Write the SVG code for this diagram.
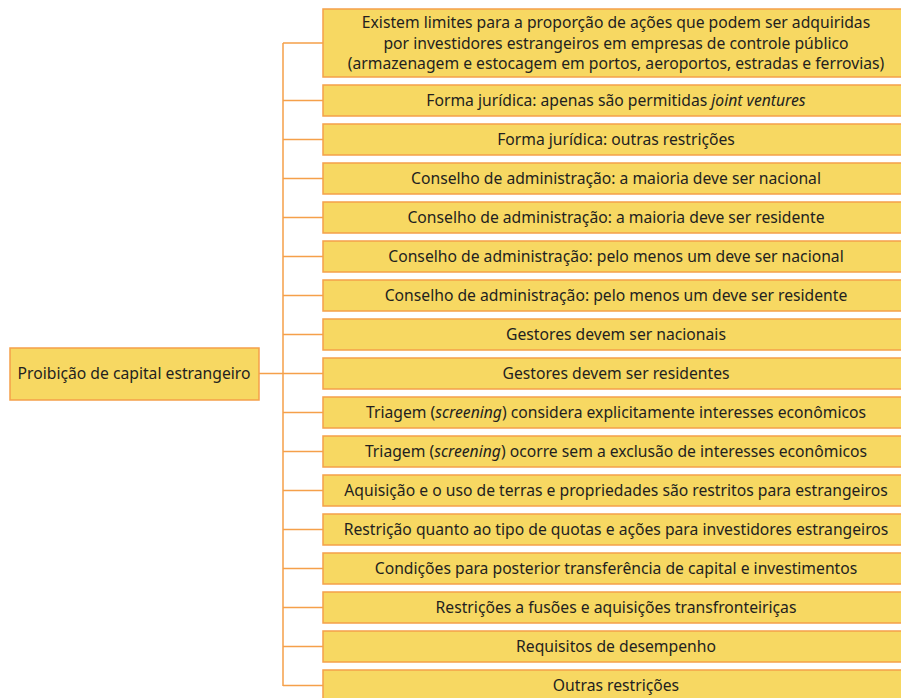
<svg xmlns="http://www.w3.org/2000/svg" width="901" height="698" viewBox="0 0 901 698">
<style>
.b{fill:#f7d862;stroke:#f5a04a;stroke-width:1.5}
.t{font-family:"Noto Sans","Open Sans",sans-serif;font-size:15.7px;fill:#231f20;text-anchor:middle}
.c{fill:none;stroke:#f5a04a;stroke-width:1.5}
</style>
<rect width="901" height="698" fill="#ffffff"/>
<g id="connectors">
<path class="c" d="M259 373.5H283M283 43V686"/>
<path class="c" d="M283 43H323M283 100.5H323M283 139.5H323M283 178.5H323M283 217.5H323M283 256.5H323M283 295.5H323M283 334.5H323M283 373.5H323M283 412.5H323M283 451.5H323M283 490.5H323M283 529.5H323M283 568.5H323M283 607.5H323M283 646.5H323M283 685.5H323"/>
</g>
<g id="root"><rect class="b" x="10" y="348" width="249" height="52"/><text class="t" x="134" y="379">Proibição de capital estrangeiro</text></g>
<g id="n1"><rect class="b" x="323" y="9" width="590" height="68"/>
<text class="t" x="616" y="28">Existem limites para a proporção de ações que podem ser adquiridas</text>
<text class="t" x="616" y="48.5">por investidores estrangeiros em empresas de controle público</text>
<text class="t" x="616" y="69">(armazenagem e estocagem em portos, aeroportos, estradas e ferrovias)</text></g>
<g id="n2"><rect class="b" x="323" y="85" width="590" height="31"/><text class="t" x="616" y="106">Forma jurídica: apenas são permitidas <tspan font-style="italic">joint ventures</tspan></text></g>
<g id="n3"><rect class="b" x="323" y="124" width="590" height="31"/><text class="t" x="616" y="145">Forma jurídica: outras restrições</text></g>
<g id="n4"><rect class="b" x="323" y="163" width="590" height="31"/><text class="t" x="616" y="184">Conselho de administração: a maioria deve ser nacional</text></g>
<g id="n5"><rect class="b" x="323" y="202" width="590" height="31"/><text class="t" x="616" y="223">Conselho de administração: a maioria deve ser residente</text></g>
<g id="n6"><rect class="b" x="323" y="241" width="590" height="31"/><text class="t" x="616" y="262">Conselho de administração: pelo menos um deve ser nacional</text></g>
<g id="n7"><rect class="b" x="323" y="280" width="590" height="31"/><text class="t" x="616" y="301">Conselho de administração: pelo menos um deve ser residente</text></g>
<g id="n8"><rect class="b" x="323" y="319" width="590" height="31"/><text class="t" x="616" y="340">Gestores devem ser nacionais</text></g>
<g id="n9"><rect class="b" x="323" y="358" width="590" height="31"/><text class="t" x="616" y="379">Gestores devem ser residentes</text></g>
<g id="n10"><rect class="b" x="323" y="397" width="590" height="31"/><text class="t" x="616" y="418">Triagem (<tspan font-style="italic">screening</tspan>) considera explicitamente interesses econômicos</text></g>
<g id="n11"><rect class="b" x="323" y="436" width="590" height="31"/><text class="t" x="616" y="457">Triagem (<tspan font-style="italic">screening</tspan>) ocorre sem a exclusão de interesses econômicos</text></g>
<g id="n12"><rect class="b" x="323" y="475" width="590" height="31"/><text class="t" x="616" y="496">Aquisição e o uso de terras e propriedades são restritos para estrangeiros</text></g>
<g id="n13"><rect class="b" x="323" y="514" width="590" height="31"/><text class="t" x="616" y="535">Restrição quanto ao tipo de quotas e ações para investidores estrangeiros</text></g>
<g id="n14"><rect class="b" x="323" y="553" width="590" height="31"/><text class="t" x="616" y="574">Condições para posterior transferência de capital e investimentos</text></g>
<g id="n15"><rect class="b" x="323" y="592" width="590" height="31"/><text class="t" x="616" y="613">Restrições a fusões e aquisições transfronteiriças</text></g>
<g id="n16"><rect class="b" x="323" y="631" width="590" height="31"/><text class="t" x="616" y="652">Requisitos de desempenho</text></g>
<g id="n17"><rect class="b" x="323" y="670" width="590" height="31"/><text class="t" x="616" y="691">Outras restrições</text></g>
</svg>
